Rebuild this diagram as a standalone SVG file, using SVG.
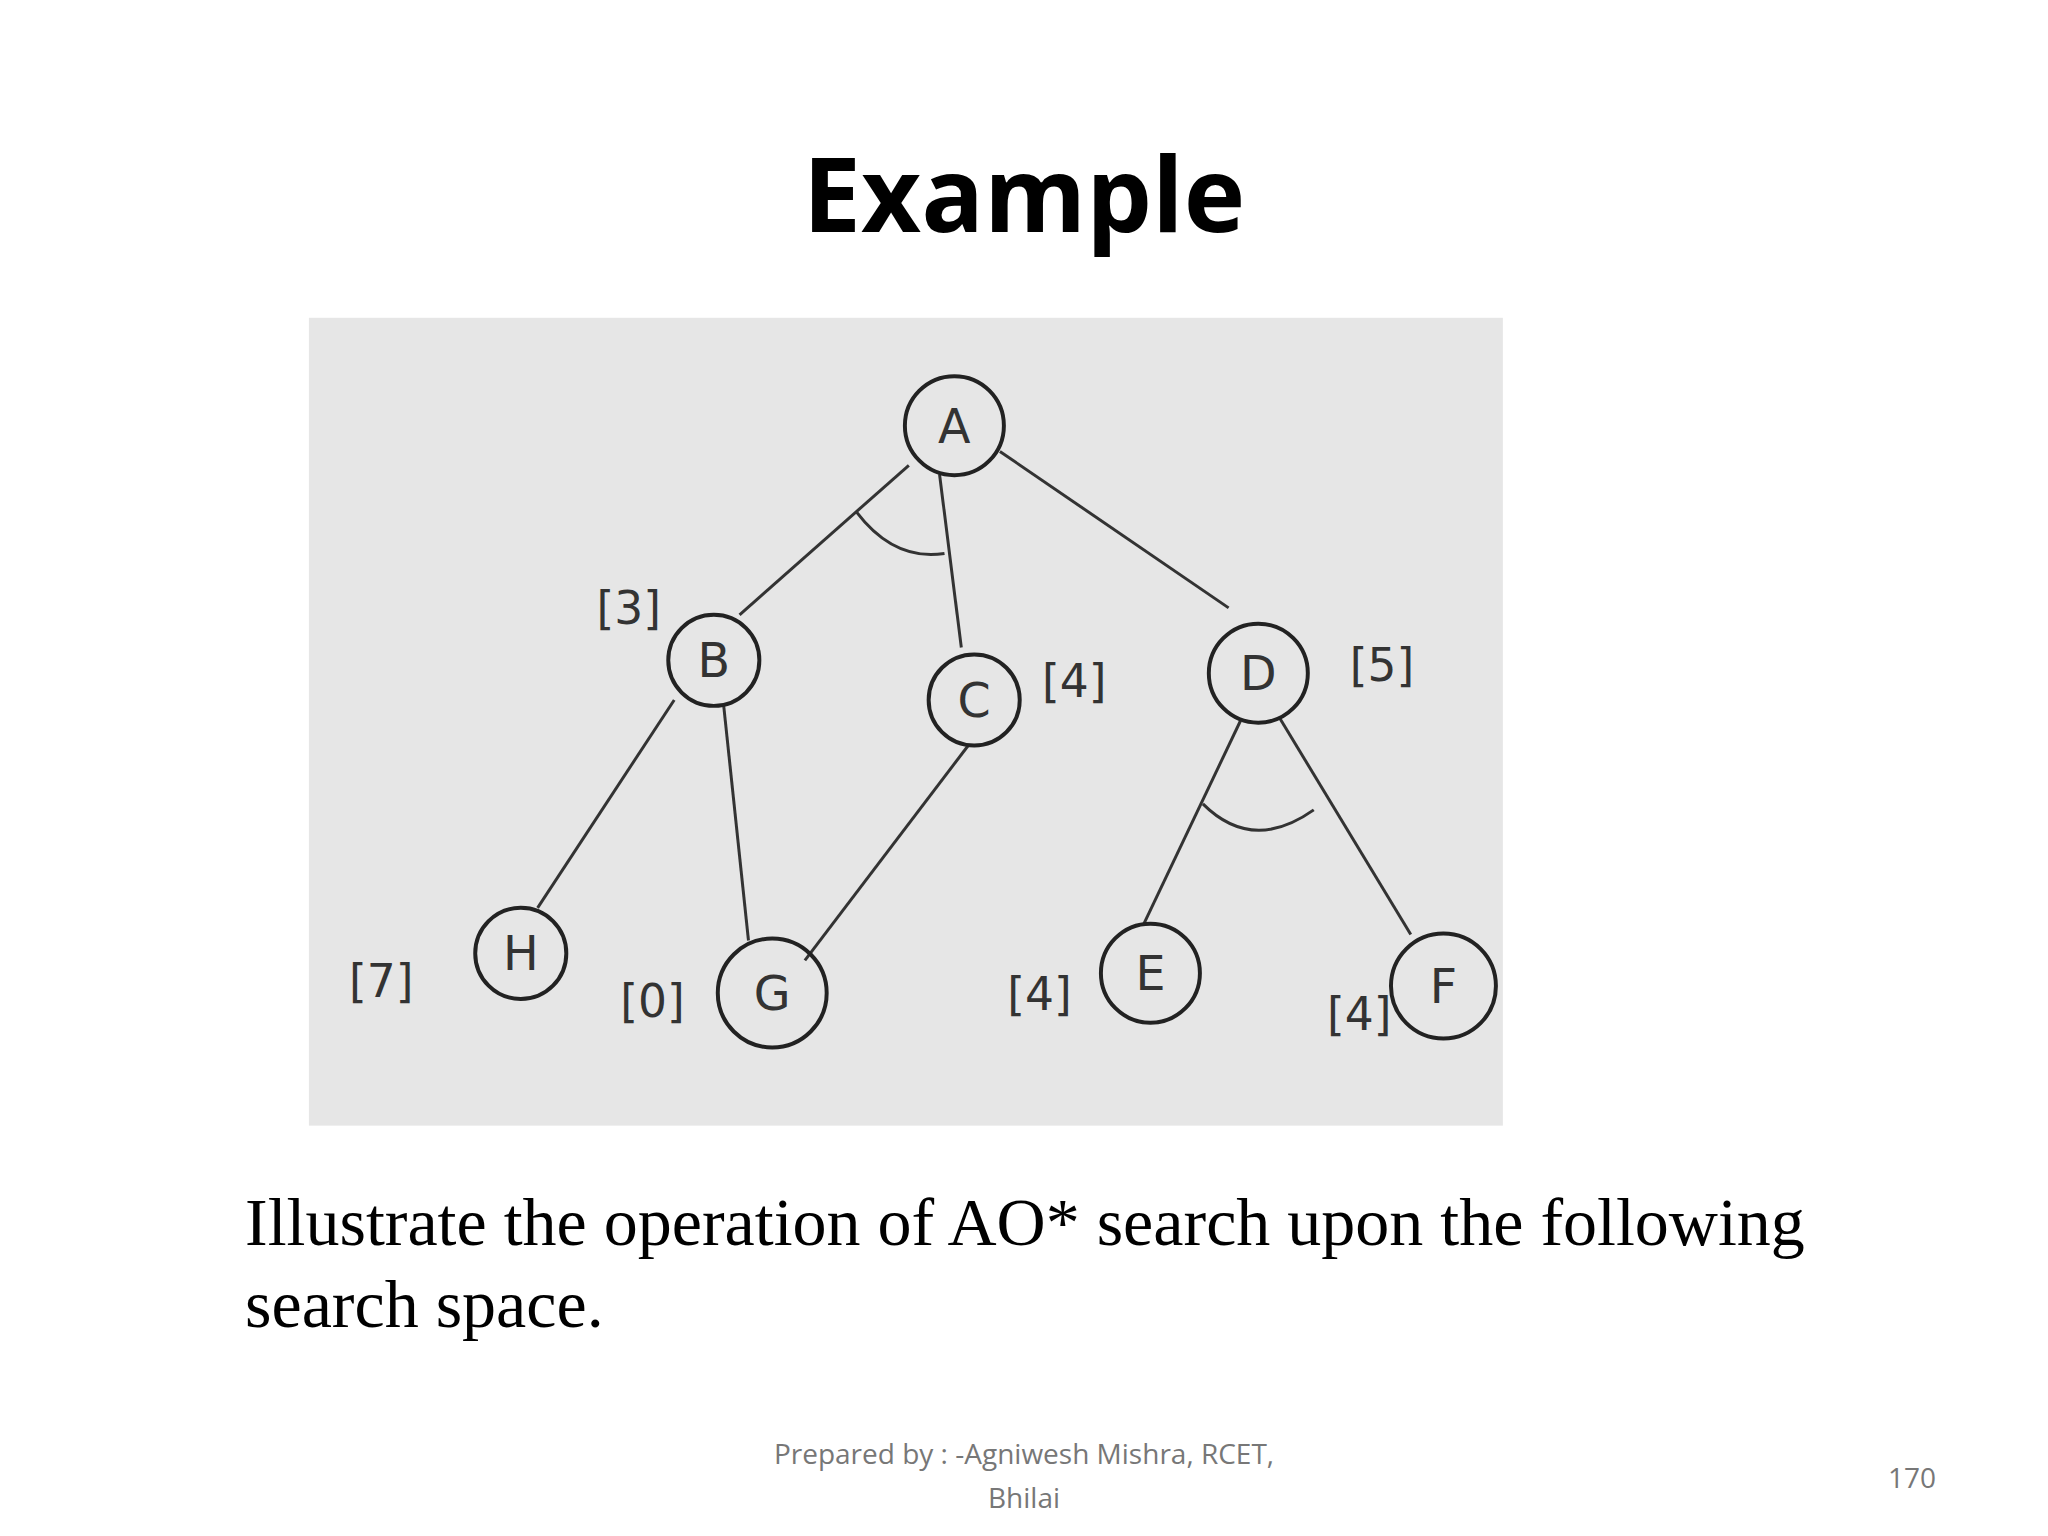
<svg xmlns="http://www.w3.org/2000/svg" width="2048" height="1536" viewBox="0 0 2048 1536">
<style>
.n{fill:none;stroke:#222;stroke-width:4}
.t{font-family:"DejaVu Sans",sans-serif;font-size:48px;fill:#333;text-anchor:middle}
.l{font-family:"DejaVu Sans",sans-serif;font-size:46px;fill:#333;text-anchor:middle}
.e{stroke:#333;stroke-width:3;fill:none}
</style>
<rect width="2048" height="1536" fill="#fff"/>
<text x="1024" y="232" font-family="Open Sans,sans-serif" font-weight="bold" font-size="104" text-anchor="middle">Example</text>
<g transform="translate(3,2) scale(0.99)">
<rect x="309" y="319" width="1206" height="816" fill="#e6e6e6"/>
<g id="connectors">
<line class="e" x1="915" y1="468" x2="744" y2="619"/>
<line class="e" x1="946" y1="477" x2="968" y2="652"/>
<line class="e" x1="1007" y1="454" x2="1238" y2="612"/>
<path class="e" d="M862,515 Q900,565 951,557"/>
<line class="e" x1="678" y1="705" x2="540" y2="915"/>
<line class="e" x1="728" y1="711" x2="753" y2="948"/>
<line class="e" x1="975" y1="751" x2="810" y2="968"/>
<line class="e" x1="1250" y1="726" x2="1152" y2="932"/>
<line class="e" x1="1290" y1="724" x2="1422" y2="942"/>
<path class="e" d="M1212,810 Q1262,860 1324,816"/>
</g>
<g id="A"><circle class="n" cx="961" cy="428" r="50"/><text class="t" x="961" y="445">A</text></g>
<g id="B"><circle class="n" cx="718" cy="665" r="46"/><text class="t" x="718" y="682">B</text><text class="l" x="632" y="628">[3]</text></g>
<g id="C"><circle class="n" cx="981" cy="705" r="46"/><text class="t" x="981" y="722">C</text><text class="l" x="1082" y="702">[4]</text></g>
<g id="D"><circle class="n" cx="1268" cy="678" r="50"/><text class="t" x="1268" y="695">D</text><text class="l" x="1393" y="686">[5]</text></g>
<g id="H"><circle class="n" cx="523" cy="961" r="46"/><text class="t" x="523" y="978">H</text><text class="l" x="382" y="1005">[7]</text></g>
<g id="G"><circle class="n" cx="777" cy="1001" r="55"/><text class="t" x="777" y="1018">G</text><text class="l" x="656" y="1025">[0]</text></g>
<g id="E"><circle class="n" cx="1159" cy="981" r="50"/><text class="t" x="1159" y="998">E</text><text class="l" x="1047" y="1018">[4]</text></g>
<g id="F"><circle class="n" cx="1455" cy="994" r="53"/><text class="t" x="1455" y="1011">F</text><text class="l" x="1370" y="1038">[4]</text></g>
</g>
<text x="245" y="1245" font-family="Liberation Serif,serif" font-size="68">Illustrate the operation of AO* search upon the following</text>
<text x="245" y="1327" font-family="Liberation Serif,serif" font-size="68">search space.</text>
<text x="1024" y="1464" font-family="Open Sans,sans-serif" font-size="28" fill="#777" text-anchor="middle">Prepared by : -Agniwesh Mishra, RCET,</text>
<text x="1024" y="1508" font-family="Open Sans,sans-serif" font-size="28" fill="#777" text-anchor="middle">Bhilai</text>
<text x="1912" y="1488" font-family="Open Sans,sans-serif" font-size="28" fill="#777" text-anchor="middle">170</text>
</svg>
